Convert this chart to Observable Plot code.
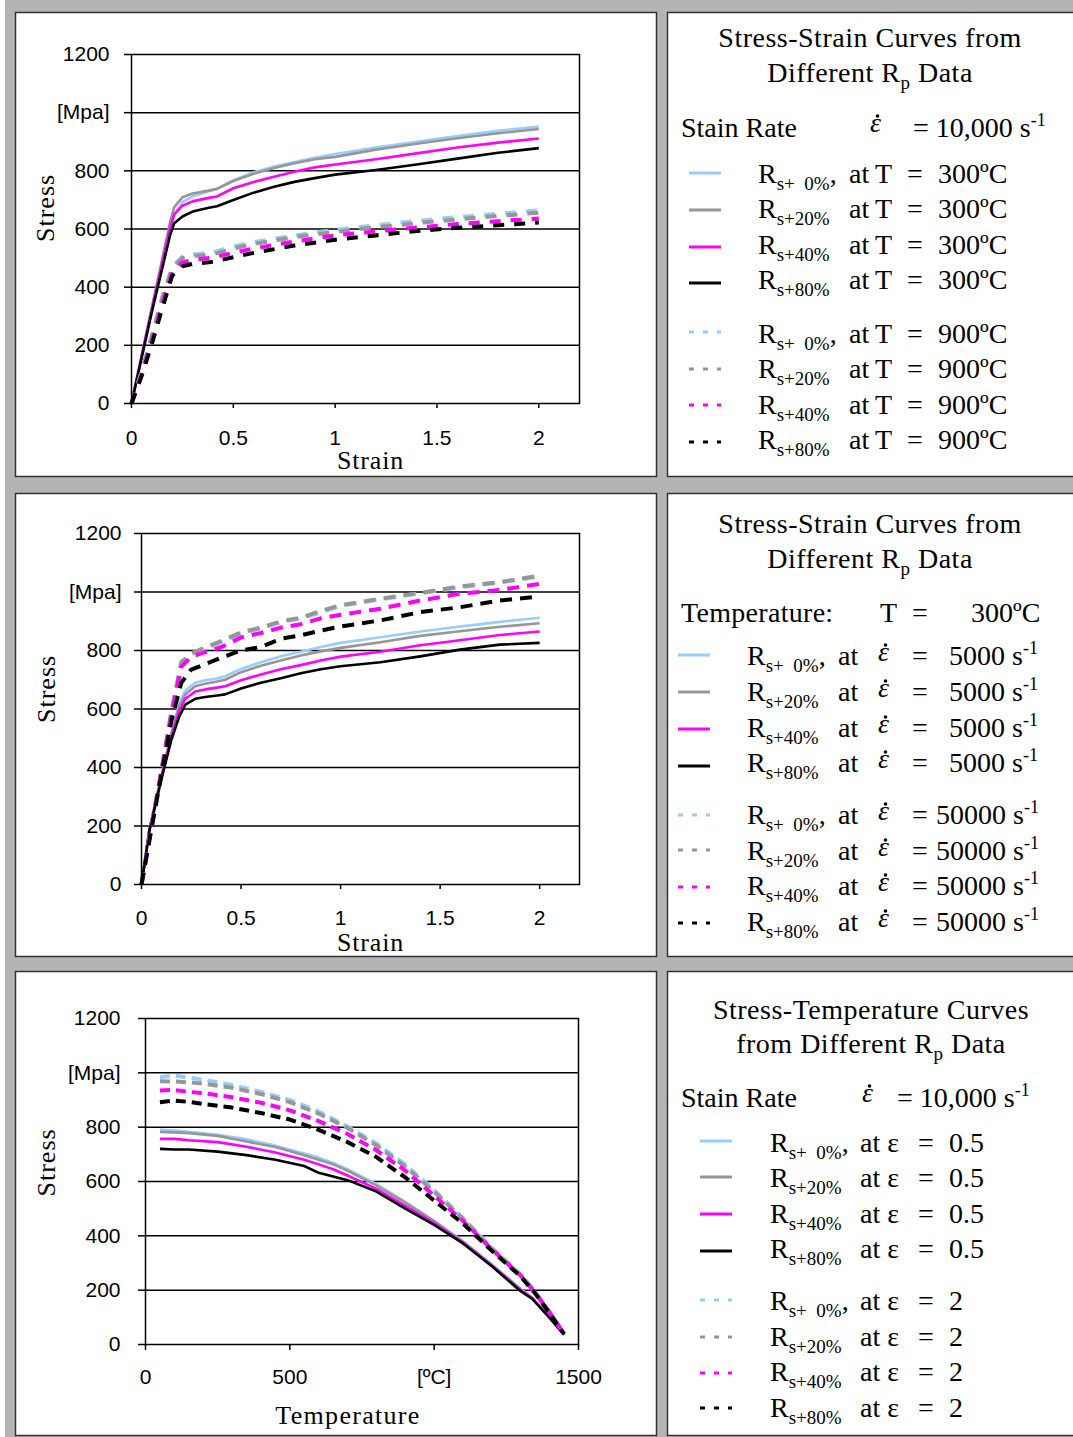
<!DOCTYPE html>
<html>
<head>
<meta charset="utf-8">
<script src="https://cdn.jsdelivr.net/npm/d3@7"></script>
<script src="https://cdn.jsdelivr.net/npm/@observablehq/plot@0.6"></script>
<style>
  html, body { margin: 0; padding: 0; }
  body { width: 1073px; height: 1437px; position: relative; overflow: hidden; background: #b4b4b4; }
</style>
</head>
<body>
<script>
// ---------- DATA ----------
// Chart 1: strain rate 10,000 1/s, solid = 300ºC, dashed = 900ºC
const strain300 = [0, 0.1, 0.19, 0.21, 0.25, 0.3, 0.38, 0.42, 0.5, 0.6, 0.7, 0.8, 0.9, 1.0, 1.2, 1.4, 1.6, 1.8, 2.0];
const c1Blue300  = [0, 330, 610, 650, 692, 712, 730, 738, 768, 795, 815, 830, 845, 858, 880, 900, 920, 938, 952];
const c1Grey300  = [0, 330, 625, 675, 709, 722, 732, 738, 765, 790, 810, 826, 840, 848, 873, 893, 912, 929, 944];
const c1Mag300   = [0, 325, 605, 650, 680, 695, 707, 712, 740, 762, 780, 797, 812, 822, 840, 860, 880, 897, 911];
const c1Black300 = [0, 315, 580, 620, 643, 660, 673, 678, 700, 725, 745, 762, 775, 787, 803, 822, 842, 862, 878];

const strain900 = [0, 0.05, 0.1, 0.15, 0.2, 0.25, 0.3, 0.4, 0.5, 0.6, 0.8, 1.0, 1.2, 1.4, 1.6, 1.8, 2.0];
const c1Blue900  = [0, 110, 235, 365, 470, 505, 512, 520, 540, 555, 578, 597, 613, 628, 641, 652, 664];
const c1Grey900  = [0, 108, 230, 358, 465, 500, 507, 513, 533, 549, 572, 590, 606, 620, 633, 645, 656];
const c1Mag900   = [0, 100, 215, 340, 452, 485, 494, 502, 518, 533, 557, 578, 592, 605, 617, 627, 636];
const c1Black900 = [0, 95, 205, 325, 440, 472, 480, 487, 503, 518, 543, 563, 578, 593, 604, 613, 622];

// Chart 2: T = 300ºC, solid = 5000 1/s, dashed = 50000 1/s
const strain5000 = [0, 0.04, 0.1, 0.15, 0.19, 0.22, 0.27, 0.32, 0.38, 0.42, 0.5, 0.6, 0.7, 0.8, 0.9, 1.0, 1.2, 1.4, 1.6, 1.8, 2.0];
const c2Blue5000  = [0, 190, 370, 520, 620, 663, 690, 698, 704, 712, 737, 760, 780, 796, 812, 826, 845, 865, 882, 898, 912];
const c2Grey5000  = [0, 190, 370, 515, 610, 650, 678, 686, 694, 700, 726, 748, 766, 783, 797, 809, 828, 850, 866, 881, 893];
const c2Mag5000   = [0, 188, 365, 505, 595, 635, 660, 667, 673, 678, 698, 718, 736, 750, 766, 779, 796, 818, 835, 853, 865];
const c2Black5000 = [0, 185, 360, 495, 575, 615, 635, 641, 646, 650, 670, 690, 705, 722, 736, 746, 760, 780, 803, 820, 826];

const strain50000 = [0, 0.05, 0.1, 0.15, 0.2, 0.25, 0.3, 0.4, 0.5, 0.6, 0.7, 0.8, 0.9, 1.0, 1.2, 1.4, 1.6, 1.8, 2.0];
const c2Blue50000  = [0, 200, 390, 590, 758, 786, 802, 828, 858, 876, 896, 910, 930, 952, 975, 995, 1016, 1032, 1053];
const c2Grey50000  = [0, 200, 390, 590, 760, 790, 805, 832, 862, 878, 900, 912, 935, 955, 977, 997, 1019, 1034, 1056];
const c2Mag50000   = [0, 195, 385, 580, 745, 778, 790, 811, 845, 860, 878, 890, 910, 922, 943, 971, 994, 1007, 1028];
const c2Black50000 = [0, 190, 375, 560, 690, 735, 748, 775, 800, 812, 840, 852, 868, 882, 903, 931, 948, 971, 985];

// Chart 3: strain rate 10,000 1/s, solid = strain 0.5, dashed = strain 2
const temp05 = [50, 100, 150, 250, 350, 450, 550, 600, 650, 700, 800, 900, 1000, 1100, 1200, 1300, 1340, 1400, 1450];
const c3Blue05  = [790, 788, 783, 772, 755, 732, 703, 688, 668, 645, 590, 525, 455, 380, 295, 205, 172, 100, 38];
const c3Grey05  = [782, 781, 778, 768, 747, 727, 697, 680, 663, 640, 585, 522, 453, 378, 293, 203, 171, 100, 38];
const c3Mag05   = [757, 757, 752, 745, 728, 707, 680, 663, 645, 622, 573, 510, 447, 375, 290, 200, 170, 99, 36];
const c3Black05 = [720, 718, 718, 710, 697, 680, 657, 632, 618, 605, 563, 500, 440, 372, 288, 196, 168, 98, 36];

const temp2 = [50, 100, 150, 200, 300, 400, 500, 600, 700, 800, 900, 1000, 1100, 1200, 1300, 1350, 1400, 1450];
const c3Blue2  = [984, 990, 982, 975, 955, 930, 900, 858, 802, 740, 662, 568, 465, 355, 258, 195, 120, 40];
const c3Grey2  = [969, 968, 965, 960, 945, 922, 892, 850, 797, 733, 655, 563, 462, 353, 256, 193, 119, 40];
const c3Mag2   = [935, 937, 930, 925, 910, 890, 862, 822, 775, 715, 640, 548, 455, 350, 253, 190, 117, 38];
const c3Black2 = [892, 898, 893, 885, 872, 852, 828, 790, 745, 690, 615, 530, 445, 345, 250, 188, 115, 38];

// Axes
const yTicks = [0, 200, 400, 600, 800, 1000, 1200];
const yTickLabels = ["0", "200", "400", "600", "800", "[Mpa]", "1200"];
const strainTicks = [0, 0.5, 1, 1.5, 2];
const strainTickLabels = ["0", "0.5", "1", "1.5", "2"];
const tempTicks = [0, 500, 1000, 1500];
const tempTickLabels = ["0", "500", "[ºC]", "1500"];

// Legend texts
const pctLabels = [0, 20, 40, 80];
const colorNames = ["blue", "grey", "mag", "black"];
const COLORS = {blue: "#99ccff", grey: "#969696", mag: "#ff00ff", black: "#000000"};

// ---------- HELPERS ----------
const serif = "'Liberation Serif','Times New Roman',Times,serif";
const sans = "'Liberation Sans',Arial,Helvetica,sans-serif";

function table(xs, ys) { return xs.map((x, i) => ({x, y: ys[i]})); }

function lineMarks(xs, ysList, dash) {
  return ysList.map((ys, i) => Plot.line(table(xs, ys), {
    x: "x", y: "y",
    stroke: COLORS[colorNames[i]],
    strokeWidth: dash ? 4 : 2.6,
    strokeDasharray: dash || null,
    strokeLinecap: "butt",
    strokeLinejoin: "round"
  }));
}

function makeChart(cfg) {
  const svg = Plot.plot({
    width: cfg.width, height: cfg.height,
    marginLeft: cfg.ml, marginRight: cfg.mr, marginTop: cfg.mt, marginBottom: cfg.mb,
    x: {domain: cfg.xDomain},
    y: {domain: [0, 1200]},
    style: {background: "transparent", color: "#000", fontFamily: sans, fontSize: "21px", overflow: "visible"},
    marks: [
      Plot.ruleY(yTicks.filter(d => d > 0 && d < 1200), {stroke: "#000", strokeWidth: 1.5}),
      ...cfg.lines,
      Plot.frame({stroke: "#000", strokeWidth: 1.5}),
      Plot.axisY({ticks: yTicks, tickFormat: d => yTickLabels[yTicks.indexOf(d)], tickSize: 7, tickPadding: cfg.yPad,
        strokeWidth: 1.5, fontSize: 21, fontFamily: sans, label: null}),
      Plot.axisX({ticks: cfg.xTicks, tickFormat: d => cfg.xTickLabels[cfg.xTicks.indexOf(d)], tickSize: cfg.xTickSize, tickPadding: cfg.xPad,
        strokeWidth: 1.5, fontSize: 21, fontFamily: sans, label: null}),
      Plot.text([cfg.xLabel], {frameAnchor: "bottom", dx: cfg.xLabDx, dy: cfg.xLabDy, fontSize: 26, fontFamily: serif, lineAnchor: "middle"}),
      Plot.text(["Stress"], {frameAnchor: "left", rotate: -90, dx: cfg.yLabDx, dy: cfg.yLabDy, fontSize: 26, fontFamily: serif, lineAnchor: "middle"})
    ]
  });
  d3.select(svg).selectAll("text").each(function() {
    const t = this.textContent;
    if (t === "Stress") this.style.letterSpacing = "1px";
    if (t === "Strain") this.style.letterSpacing = "0.8px";
    if (t === "Temperature") this.style.letterSpacing = "1.3px";
  });
  svg.style.position = "absolute";
  svg.style.left = cfg.left + "px";
  svg.style.top = cfg.top + "px";
  document.body.appendChild(svg);
}

// ---------- PAGE: boxes + legends ----------
const page = d3.select("body").append("svg")
  .attr("width", 1073).attr("height", 1437)
  .style("position", "absolute").style("left", "0px").style("top", "0px")
  .attr("font-family", serif).attr("fill", "#000");

page.append("rect").attr("x", 0).attr("y", 0).attr("width", 5).attr("height", 1437).attr("fill", "#fff");

const rows = [[12, 476], [493, 956], [971, 1435]];
rows.forEach(([t, b]) => {
  page.append("rect").attr("x", 15.5).attr("y", t + 0.5).attr("width", 641).attr("height", b - t)
    .attr("fill", "#fff").attr("stroke", "#333").attr("stroke-width", 1.5);
  page.append("rect").attr("x", 667.5).attr("y", t + 0.5).attr("width", 420).attr("height", b - t)
    .attr("fill", "#fff").attr("stroke", "#333").attr("stroke-width", 1.5);
});

function text(x, y, str, opts = {}) {
  const t = page.append("text").attr("x", x).attr("y", y).attr("font-size", opts.size || 28);
  if (opts.anchor) t.attr("text-anchor", opts.anchor);
  if (opts.italic) t.attr("font-style", "italic");
  if (opts.ls) t.style("letter-spacing", opts.ls);
  if (str != null) t.text(str);
  return t;
}
function titleRp(cx, y, before, after) {
  const t = text(cx, y, null, {anchor: "middle", ls: "0.5px"});
  t.append("tspan").text(before + "R");
  t.append("tspan").attr("font-size", 19).attr("dy", 7).text("p");
  t.append("tspan").attr("dy", -7).text(" " + after);
}
function rLabel(x, y, pct) {
  const t = text(x, y, null);
  t.append("tspan").text("R");
  t.append("tspan").attr("font-size", 19).attr("dy", 7).text("s+");
  if (pct === 0) {
    t.append("tspan").attr("font-size", 19).attr("fill", "transparent").text("2");
    t.append("tspan").attr("font-size", 19).text("0%");
    t.append("tspan").attr("dy", -7).text(",");
  } else {
    t.append("tspan").attr("font-size", 19).text(pct + "%");
  }
}
function epsDot(x, y) {
  text(x, y, "ε", {italic: true});
  page.append("circle").attr("cx", x + 7.5).attr("cy", y - 16).attr("r", 1.8).attr("fill", "#000");
}
function rateValue(x, y, str) {
  const t = text(x, y, null);
  t.append("tspan").text(str + " s");
  t.append("tspan").attr("font-size", 18).attr("dy", -11).text("-1");
}
function sample(x1, x2, y, color, dashed) {
  page.append("line").attr("x1", x1).attr("x2", x2).attr("y1", y).attr("y2", y)
    .attr("stroke", color).attr("stroke-width", 3)
    .attr("stroke-dasharray", dashed ? "5,9" : null);
}

// Legend 1
text(870, 47, "Stress-Strain Curves from", {anchor: "middle", ls: "0.5px"});
titleRp(870, 82, "Different ", "Data");
text(681, 137, "Stain Rate");
epsDot(870, 132);
rateValue(913, 137, "= 10,000");
const L1base = [183, 218, 254, 289, 343, 378, 414, 449];
const L1line = [173, 210, 247, 283, 332, 369, 405, 442];
L1base.forEach((by, i) => {
  const k = i % 4, dashed = i >= 4;
  sample(689, 721, L1line[i], COLORS[colorNames[k]], dashed);
  rLabel(758, by, pctLabels[k]);
  text(849, by, "at");
  text(875, by, "T");
  text(907, by, "=");
  text(938, by, dashed ? "900ºC" : "300ºC");
});

// Legend 2
text(870, 533, "Stress-Strain Curves from", {anchor: "middle", ls: "0.5px"});
titleRp(870, 568, "Different ", "Data");
text(681, 622, "Temperature:", {ls: "0.3px"});
text(880, 622, "T");
text(912, 622, "=");
text(971, 622, "300ºC");
const L2base = [665, 701, 737, 772, 824, 860, 895, 931];
const L2line = [655, 692, 729, 766, 815, 850, 887, 923];
L2base.forEach((by, i) => {
  const k = i % 4, dashed = i >= 4;
  sample(678, 710, L2line[i], COLORS[colorNames[k]], dashed);
  rLabel(747, by, pctLabels[k]);
  text(838, by, "at");
  epsDot(878, by - 4);
  text(912, by, "=");
  if (dashed) rateValue(936, by, "50000");
  else rateValue(949, by, "5000");
});

// Legend 3
text(871, 1019, "Stress-Temperature Curves", {anchor: "middle", ls: "0.5px"});
titleRp(871, 1053, "from Different ", "Data");
text(681, 1107, "Stain Rate");
epsDot(862, 1102);
rateValue(897, 1107, "= 10,000");
const L3base = [1152, 1187, 1223, 1258, 1310, 1346, 1381, 1417];
const L3line = [1141, 1177, 1214, 1251, 1300, 1337, 1373, 1408];
L3base.forEach((by, i) => {
  const k = i % 4, dashed = i >= 4;
  sample(700, 732, L3line[i], COLORS[colorNames[k]], dashed);
  rLabel(770, by, pctLabels[k]);
  text(860, by, "at ε");
  text(918, by, "=");
  text(949, by, dashed ? "2" : "0.5");
});

// ---------- CHARTS ----------
makeChart({
  left: 15, top: 12, width: 641, height: 464, ml: 116, mr: 77, mt: 42, mb: 73,
  xDomain: [0, 2.2], xTicks: strainTicks, xTickLabels: strainTickLabels,
  xTickSize: 5, xPad: 22, yPad: 15,
  xLabel: "Strain", xLabDx: 15, xLabDy: 57, yLabDx: -86, yLabDy: 13,
  lines: [
    ...lineMarks(strain300, [c1Blue300, c1Grey300, c1Mag300, c1Black300], null),
    ...lineMarks(strain900, [c1Blue900, c1Grey900, c1Mag900, c1Black900], "11,10")
  ]
});

makeChart({
  left: 15, top: 493, width: 641, height: 463, ml: 126, mr: 77, mt: 40, mb: 72,
  xDomain: [0, 2.2], xTicks: strainTicks, xTickLabels: strainTickLabels,
  xTickSize: 5, xPad: 21, yPad: 13,
  xLabel: "Strain", xLabDx: 10, xLabDy: 58, yLabDx: -95, yLabDy: 14,
  lines: [
    ...lineMarks(strain5000, [c2Blue5000, c2Grey5000, c2Mag5000, c2Black5000], null),
    ...lineMarks(strain50000, [c2Blue50000, c2Grey50000, c2Mag50000, c2Black50000], "12,8")
  ]
});

makeChart({
  left: 15, top: 971, width: 641, height: 464, ml: 130, mr: 78, mt: 47, mb: 91,
  xDomain: [0, 1500], xTicks: tempTicks, xTickLabels: tempTickLabels,
  xTickSize: 6, xPad: 19, yPad: 18,
  xLabel: "Temperature", xLabDx: -14, xLabDy: 71, yLabDx: -99, yLabDy: 15,
  lines: [
    ...lineMarks(temp05, [c3Blue05, c3Grey05, c3Mag05, c3Black05], null),
    ...lineMarks(temp2, [c3Blue2, c3Grey2, c3Mag2, c3Black2], "10,6")
  ]
});
</script>
</body>
</html>
